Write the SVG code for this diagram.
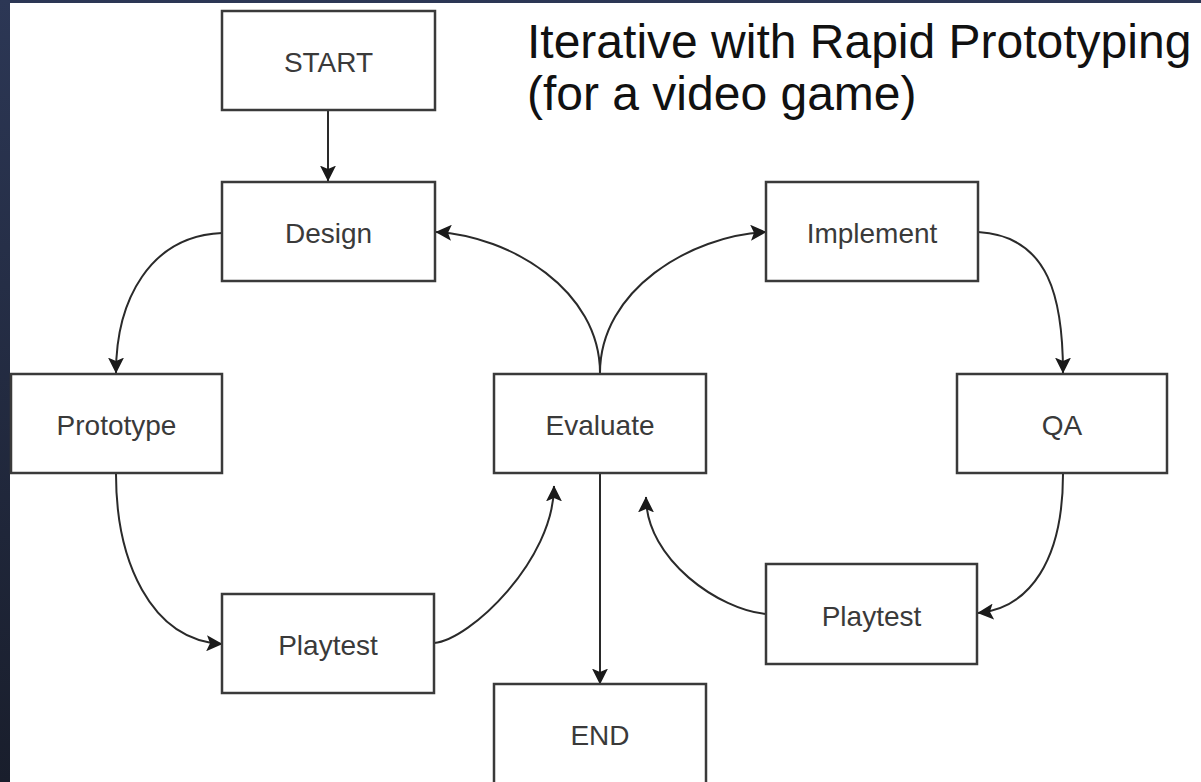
<svg xmlns="http://www.w3.org/2000/svg" width="1201" height="782" viewBox="0 0 1201 782">
  <defs>
    <linearGradient id="bg" x1="0" y1="0" x2="0" y2="1">
      <stop offset="0" stop-color="#2c3755"/>
      <stop offset="1" stop-color="#191e2c"/>
    </linearGradient>
    <marker id="arrow" markerUnits="userSpaceOnUse" markerWidth="16" markerHeight="16" viewBox="0 0 14 14" refX="13.5" refY="7" orient="auto">
      <path d="M0,0 L14,7 L0,14 L3,7 Z" fill="#1a1a1a"/>
    </marker>
    <style>
      .box { fill: #ffffff; stroke: #3a3a3a; stroke-width: 2.5; }
      .label { font-family: "Liberation Sans", Arial, sans-serif; font-size: 28px; fill: #3a3a3a; text-anchor: middle; }
      .title { font-family: "Liberation Sans", Arial, sans-serif; font-size: 48px; fill: #111111; }
      .conn { fill: none; stroke: #2a2a2a; stroke-width: 2; marker-end: url(#arrow); }
    </style>
  </defs>

  <rect x="0" y="0" width="1201" height="782" fill="url(#bg)"/>
  <rect x="10" y="3" width="1191" height="779" fill="#ffffff"/>

  <g id="title">
    <text class="title" x="527" y="58">Iterative with Rapid Prototyping</text>
    <text class="title" x="527" y="110">(for a video game)</text>
  </g>

  <g id="connectors">
    <path class="conn" d="M328,111 L328,181"/>
    <path class="conn" d="M222,233 C150,236 116,300 116,373"/>
    <path class="conn" d="M116,474 C116,560 150,640 222,644"/>
    <path class="conn" d="M434,643 C470,640 554,560 554,486"/>
    <path class="conn" d="M600,373 C600,290 510,236 436,232"/>
    <path class="conn" d="M600,373 C600,290 690,236 766,232"/>
    <path class="conn" d="M978,232 C1050,236 1063,300 1063,373"/>
    <path class="conn" d="M1063,474 C1063,560 1030,608 978,613"/>
    <path class="conn" d="M766,614 C720,610 646,560 646,497"/>
    <path class="conn" d="M600,474 L600,684"/>
  </g>

  <g id="node-start">
    <rect class="box" x="222" y="11" width="213" height="99"/>
    <text class="label" x="328.5" y="72">START</text>
  </g>
  <g id="node-design">
    <rect class="box" x="222" y="182" width="213" height="99"/>
    <text class="label" x="328.5" y="243">Design</text>
  </g>
  <g id="node-prototype">
    <rect class="box" x="11" y="374" width="211" height="99"/>
    <text class="label" x="116.5" y="435">Prototype</text>
  </g>
  <g id="node-evaluate">
    <rect class="box" x="494" y="374" width="212" height="99"/>
    <text class="label" x="600" y="435">Evaluate</text>
  </g>
  <g id="node-playtest-left">
    <rect class="box" x="222" y="594" width="212" height="99"/>
    <text class="label" x="328" y="655">Playtest</text>
  </g>
  <g id="node-end">
    <rect class="box" x="494" y="684" width="212" height="110"/>
    <text class="label" x="600" y="745">END</text>
  </g>
  <g id="node-implement">
    <rect class="box" x="766" y="182" width="212" height="99"/>
    <text class="label" x="872" y="243">Implement</text>
  </g>
  <g id="node-qa">
    <rect class="box" x="957" y="374" width="210" height="99"/>
    <text class="label" x="1062" y="435">QA</text>
  </g>
  <g id="node-playtest-right">
    <rect class="box" x="766" y="564" width="211" height="100"/>
    <text class="label" x="871.5" y="626">Playtest</text>
  </g>
</svg>
